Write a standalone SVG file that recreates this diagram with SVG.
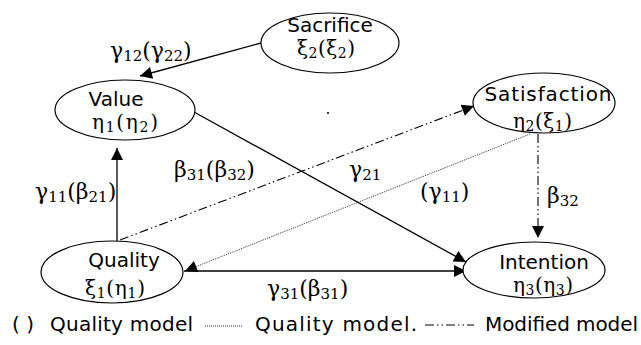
<svg xmlns="http://www.w3.org/2000/svg" width="641" height="345" viewBox="0 0 641 345">
<style>
.node ellipse{fill:#fff;stroke:#000;stroke-width:1.2}
.lbl{font-family:"DejaVu Sans",sans-serif;font-size:20px;fill:#000;text-anchor:middle}
.gk{font-family:"DejaVu Serif","Liberation Serif",serif;font-size:22px;fill:#000}
.nk{font-family:"DejaVu Serif","Liberation Serif",serif;font-size:20px;fill:#000}
.sub{font-size:15px}
.nk .sub{font-size:14px}
.solid{stroke:#000;stroke-width:1.3;fill:none}
.dashdot{stroke:#000;stroke-width:1.1;fill:none;stroke-dasharray:9 3 1.5 3 1.5 3}
.dotted{stroke:#333;stroke-width:1;fill:none;stroke-dasharray:1 1}
.legend{font-family:"DejaVu Sans",sans-serif;font-size:20px;fill:#000}
</style>
<defs>
<marker id="ah" viewBox="0 0 10 10" refX="10" refY="5" markerWidth="15" markerHeight="12" markerUnits="userSpaceOnUse" orient="auto">
<path d="M0,0 L10,5 L0,10 z" fill="#000"/>
</marker>
</defs>
<rect width="641" height="345" fill="#fff"/>
<g id="connectors">
<line class="solid" x1="261" y1="43" x2="140" y2="76" marker-end="url(#ah)"/>
<line class="solid" x1="194" y1="112" x2="466" y2="262" marker-end="url(#ah)"/>
<line class="solid" x1="117" y1="241" x2="117" y2="148" marker-end="url(#ah)"/>
<line class="dashdot" x1="120" y1="240" x2="474" y2="106" marker-end="url(#ah)"/>
<line class="dotted" x1="530" y1="134" x2="185" y2="271" marker-end="url(#ah)"/>
<line class="dashdot" x1="538" y1="134" x2="538" y2="238" marker-end="url(#ah)"/>
<line class="solid" x1="184" y1="271" x2="466" y2="271" marker-end="url(#ah)"/>
<text class="gk" x="110" y="58">γ<tspan class="sub" dy="3">12</tspan><tspan dy="-3">(γ</tspan><tspan class="sub" dy="3">22</tspan><tspan dy="-3">)</tspan></text>
<text class="gk" x="349" y="177">γ<tspan class="sub" dy="3">21</tspan></text>
<text class="gk" x="35" y="199">γ<tspan class="sub" dy="3">11</tspan><tspan dy="-3">(β</tspan><tspan class="sub" dy="3">21</tspan><tspan dy="-3">)</tspan></text>
<text class="gk" x="174" y="177">β<tspan class="sub" dy="3">31</tspan><tspan dy="-3">(β</tspan><tspan class="sub" dy="3">32</tspan><tspan dy="-3">)</tspan></text>
<text class="gk" x="420" y="199">(γ<tspan class="sub" dy="3">11</tspan><tspan dy="-3">)</tspan></text>
<text class="gk" x="547" y="203">β<tspan class="sub" dy="3">32</tspan></text>
<text class="gk" x="267" y="296">γ<tspan class="sub" dy="3">31</tspan><tspan dy="-3">(β</tspan><tspan class="sub" dy="3">31</tspan><tspan dy="-3">)</tspan></text>
<circle cx="328" cy="113" r="1" fill="#000"/>
</g>
<g id="sacrifice" class="node">
<ellipse cx="330" cy="43" rx="69" ry="30"/>
<text class="lbl" x="330" y="32">Sacrifice</text>
<text class="nk" x="297" y="55" textLength="58">ξ<tspan class="sub" dy="3">2</tspan><tspan dy="-3">(ξ</tspan><tspan class="sub" dy="3">2</tspan><tspan dy="-3">)</tspan></text>
</g>
<g id="value" class="node">
<ellipse cx="125" cy="110" rx="70" ry="30"/>
<text class="lbl" x="116" y="106">Value</text>
<text class="nk" x="92" y="129" textLength="66">η<tspan class="sub" dy="3">1</tspan><tspan dy="-3">(η</tspan><tspan class="sub" dy="3">2</tspan><tspan dy="-3">)</tspan></text>
</g>
<g id="satisfaction" class="node">
<ellipse cx="544" cy="103" rx="71" ry="30"/>
<text class="lbl" x="548" y="101" textLength="127">Satisfaction</text>
<text class="nk" x="513" y="128" textLength="59">η<tspan class="sub" dy="3">2</tspan><tspan dy="-3">(ξ</tspan><tspan class="sub" dy="3">1</tspan><tspan dy="-3">)</tspan></text>
</g>
<g id="quality" class="node">
<ellipse cx="112" cy="272" rx="71" ry="31"/>
<text class="lbl" x="124" y="267">Quality</text>
<text class="nk" x="85" y="295" textLength="60">ξ<tspan class="sub" dy="3">1</tspan><tspan dy="-3">(η</tspan><tspan class="sub" dy="3">1</tspan><tspan dy="-3">)</tspan></text>
</g>
<g id="intention" class="node">
<ellipse cx="534" cy="270" rx="71" ry="28"/>
<text class="lbl" x="544" y="269">Intention</text>
<text class="nk" x="513" y="292" textLength="60">η<tspan class="sub" dy="3">3</tspan><tspan dy="-3">(η</tspan><tspan class="sub" dy="3">3</tspan><tspan dy="-3">)</tspan></text>
</g>
<g id="legend">
<text class="legend" x="12" y="331">( )</text>
<text class="legend" x="50" y="331" textLength="143">Quality model</text>
<line class="dotted" x1="205" y1="326" x2="242" y2="326"/>
<text class="legend" x="255" y="331" textLength="162">Quality model.</text>
<line class="dashdot" x1="425" y1="325" x2="474" y2="325"/>
<text class="legend" x="485" y="331" textLength="153">Modified model</text>
</g>
</svg>
